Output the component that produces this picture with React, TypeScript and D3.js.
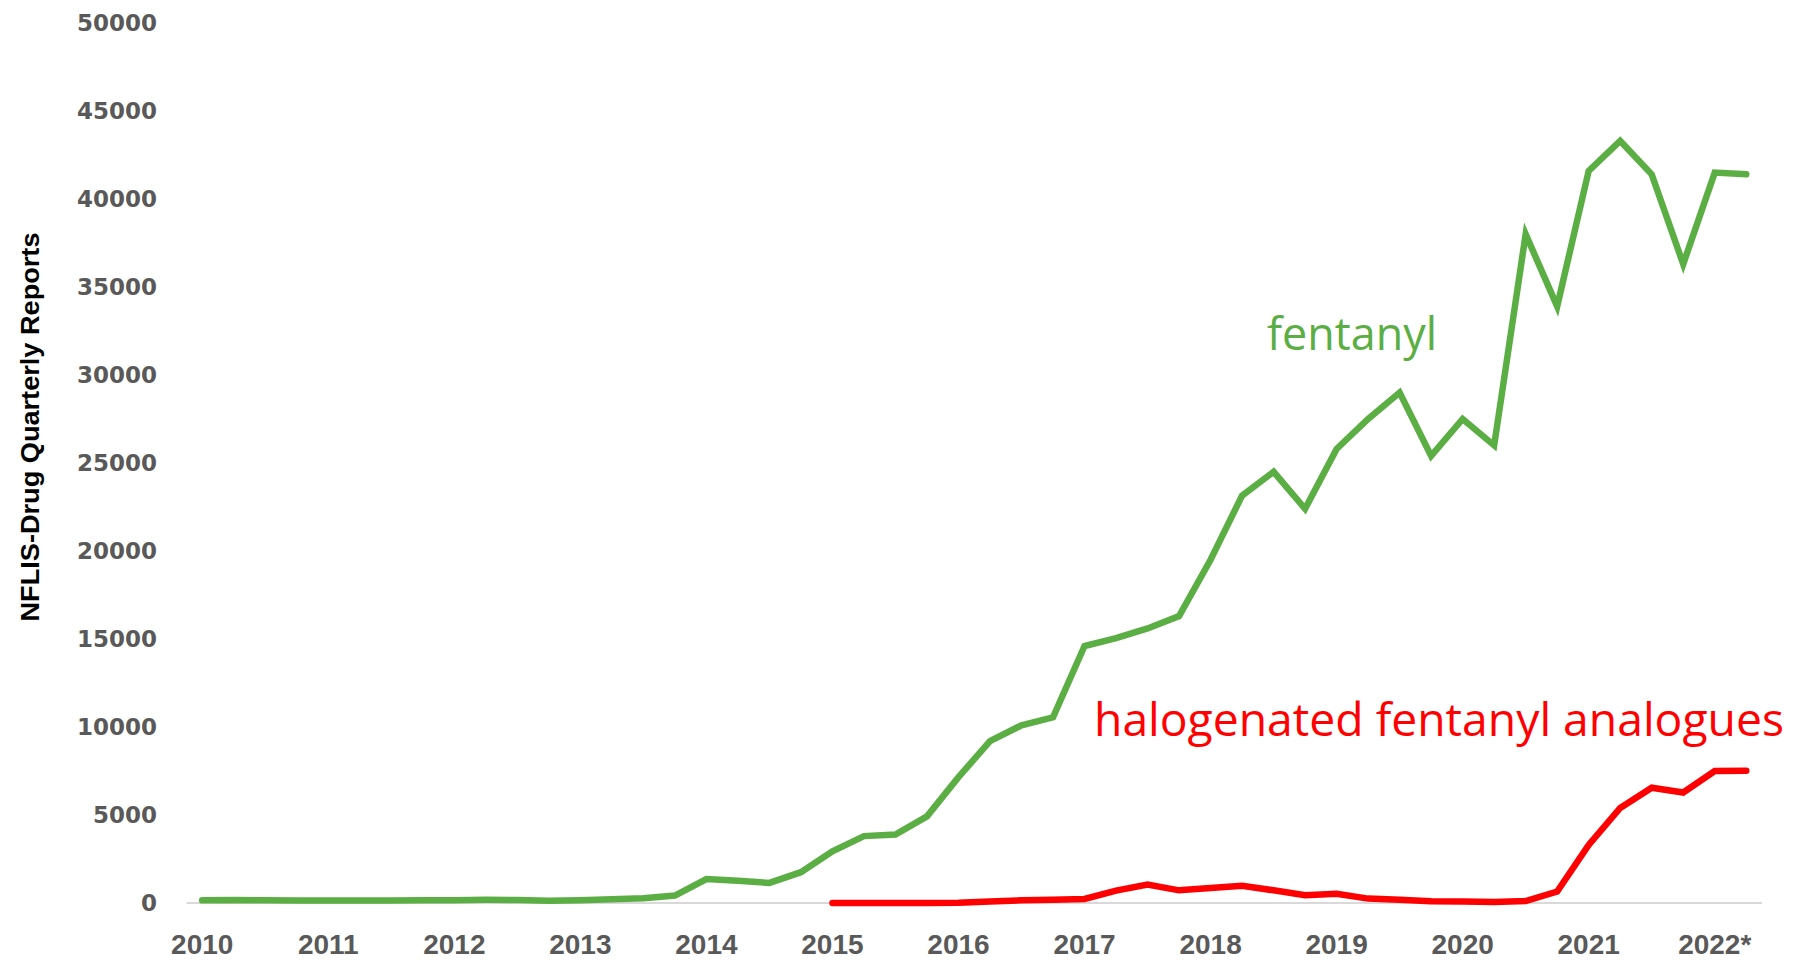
import React, { useRef, useEffect } from 'react';
import * as d3 from 'd3';

// quarterly reports, 2010 Q1 .. 2022 Q2
const fentanyl = [
    150, 170, 150, 140, 140, 140, 140, 150, 160, 180, 170, 130, 160, 220, 270, 420,
    1360, 1270, 1140, 1750, 2940, 3800, 3890, 4920, 7150, 9200, 10100, 10550,
    14600, 15050, 15600, 16300, 19500, 23150, 24500, 22400, 25800, 27500, 29000, 25400,
    27500, 26000, 38000, 33900, 41600, 43300, 41400, 36300, 41500, 41400,
];

// halogenated analogues start in 2015 Q1 (index 20)
const halogenatedStart = 20;
const halogenated = [
    0, 0, 0, 0, 20, 80, 150, 190, 230, 700, 1050, 720,
    850, 980, 720, 440, 530, 250, 190, 100, 80, 60, 110, 650,
    3300, 5400, 6550, 6280, 7500, 7520,
];

const yearLabels = ['2010', '2011', '2012', '2013', '2014', '2015', '2016', '2017', '2018', '2019', '2020', '2021', '2022*'];
const yTicks = [0, 5000, 10000, 15000, 20000, 25000, 30000, 35000, 40000, 45000, 50000];

const W = 1797;
const H = 973;

const LineChart: React.FC = () => {
    const svgRef = useRef<SVGSVGElement>(null);

    useEffect(() => {
        if (!svgRef.current) return;
        const svg = d3.select(svgRef.current);
        svg.selectAll('*').remove();

        const x = d3.scaleLinear().domain([-0.5, 49.5]).range([186.5, 1762]);
        const y = d3.scaleLinear().domain([0, 50000]).range([903, 23]);

        const tickColor = '#595959';

        // y tick labels (no gridlines, only the baseline)
        svg.append('g')
            .selectAll('text')
            .data(yTicks)
            .join('text')
            .attr('x', 157)
            .attr('y', d => y(d))
            .attr('dy', '0.36em')
            .attr('text-anchor', 'end')
            .attr('font-family', 'DejaVu Sans')
            .attr('font-weight', 'bold')
            .attr('font-size', 23)
            .attr('fill', tickColor)
            .text(d => String(d));

        // baseline
        svg.append('line')
            .attr('x1', x(-0.5))
            .attr('x2', x(49.5))
            .attr('y1', y(0))
            .attr('y2', y(0))
            .attr('stroke', '#d9d9d9')
            .attr('stroke-width', 2);

        // x labels, one per year at Q1
        svg.append('g')
            .selectAll('text')
            .data(yearLabels)
            .join('text')
            .attr('x', (d, i) => x(i * 4))
            .attr('y', 954)
            .attr('text-anchor', 'middle')
            .attr('font-family', 'Liberation Sans')
            .attr('font-weight', 'bold')
            .attr('font-size', 28)
            .attr('fill', tickColor)
            .text(d => d);

        // y axis title
        svg.append('text')
            .attr('transform', `translate(39,427) rotate(-90)`)
            .attr('text-anchor', 'middle')
            .attr('font-family', 'Liberation Sans')
            .attr('font-weight', 'bold')
            .attr('font-size', 25)
            .attr('textLength', 389)
            .attr('lengthAdjust', 'spacingAndGlyphs')
            .attr('fill', '#000')
            .text('NFLIS-Drug Quarterly Reports');

        const green = '#5bae43';
        const red = '#ff0000';

        const lineGen = (offset: number) => d3.line<number>()
            .x((d, i) => x(i + offset))
            .y(d => y(d));

        svg.append('path')
            .datum(fentanyl)
            .attr('d', lineGen(0))
            .attr('fill', 'none')
            .attr('stroke', green)
            .attr('stroke-width', 6.5)
            .attr('stroke-linecap', 'round');

        svg.append('path')
            .datum(halogenated)
            .attr('d', lineGen(halogenatedStart))
            .attr('fill', 'none')
            .attr('stroke', red)
            .attr('stroke-width', 6.5)
            .attr('stroke-linecap', 'round');

        // series labels
        svg.append('text')
            .attr('x', 1267)
            .attr('y', 350)
            .attr('font-family', 'Open Sans')
            .attr('font-size', 45)
            .attr('textLength', 170)
            .attr('lengthAdjust', 'spacingAndGlyphs')
            .attr('fill', green)
            .text('fentanyl');

        svg.append('text')
            .attr('x', 1094)
            .attr('y', 736)
            .attr('font-family', 'Open Sans')
            .attr('font-size', 45)
            .attr('textLength', 690)
            .attr('lengthAdjust', 'spacingAndGlyphs')
            .attr('fill', red)
            .text('halogenated fentanyl analogues');
    }, []);

    return (
        <svg
            ref={svgRef}
            width={W}
            height={H}
            viewBox={`0 0 ${W} ${H}`}
            style={{ position: 'absolute', left: 0, top: 0, background: '#fff' }}
        />
    );
};

export default function App() {
    return <LineChart />;
}
